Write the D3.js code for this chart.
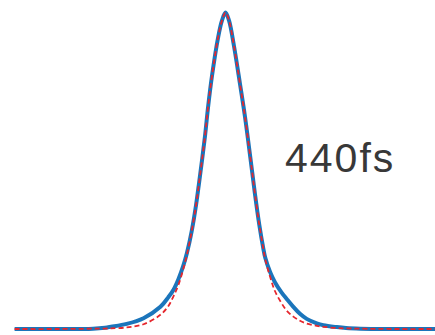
<!DOCTYPE html>
<html>
<head>
<meta charset="utf-8">
<script src="https://cdn.jsdelivr.net/npm/d3@7"></script>
<style>
  body { margin: 0; background: #fff; }
  svg { display: block; }
</style>
</head>
<body>
<svg id="chart"></svg>
<script>
// delay (fs)
const times = [-1750, -1400, -1100, -1000, -950, -820, -680, -540, -475, -430, -390, -350, -320, -280, -245, -220, -170, -145, -112, -62, -29, 0, 29, 70, 120, 162, 220, 245, 280, 311, 330, 370, 410, 466, 508, 563, 618, 674, 757, 812, 923, 1000, 1120, 1400, 1750];
// measured autocorrelation (normalised)
const measured = [0, 0, 0.001, 0.004, 0.007, 0.016, 0.034, 0.07, 0.1, 0.125, 0.158, 0.2, 0.24, 0.31, 0.39, 0.46, 0.61, 0.7, 0.8, 0.92, 0.975, 1.0, 0.975, 0.895, 0.775, 0.67, 0.5, 0.425, 0.33, 0.26, 0.225, 0.18, 0.148, 0.115, 0.095, 0.07, 0.048, 0.032, 0.018, 0.012, 0.006, 0.003, 0.001, 0, 0];
// fitted curve
const fitted = [0, 0, 0.001, 0.0015, 0.002, 0.005, 0.015, 0.045, 0.072, 0.105, 0.14, 0.19, 0.235, 0.31, 0.39, 0.46, 0.61, 0.7, 0.8, 0.92, 0.975, 1.0, 0.975, 0.895, 0.775, 0.67, 0.5, 0.425, 0.33, 0.26, 0.22, 0.165, 0.12, 0.081, 0.058, 0.039, 0.026, 0.017, 0.01, 0.007, 0.003, 0.002, 0.001, 0, 0];
const label = "440fs";

const width = 435, height = 335;
const svg = d3.select('#chart').attr('width', width).attr('height', height);

const x = d3.scaleLinear().domain([-1750, 1750]).range([14.6, 436.4]);
const y = d3.scaleLinear().domain([0, 1]).range([329, 12.5]);

const line = vals => d3.line()
  .x((d, i) => x(times[i]))
  .y(d => y(d))
  .curve(d3.curveCatmullRom.alpha(0.5))(vals);

// measured
svg.append('path')
  .attr('d', line(measured))
  .attr('fill', 'none')
  .attr('stroke', '#1b75bb')
  .attr('stroke-width', 4)
  .attr('stroke-linejoin', 'round');

// fit
svg.append('path')
  .attr('d', line(fitted))
  .attr('fill', 'none')
  .attr('stroke', '#e5262d')
  .attr('stroke-width', 1.8)
  .attr('stroke-dasharray', '5,3');

svg.append('text')
  .attr('x', 285)
  .attr('y', 172)
  .attr('font-family', 'Liberation Sans, Arial, sans-serif')
  .attr('font-size', 41)
  .attr('letter-spacing', 2)
  .attr('fill', '#383838')
  .text(label);
</script>
</body>
</html>
